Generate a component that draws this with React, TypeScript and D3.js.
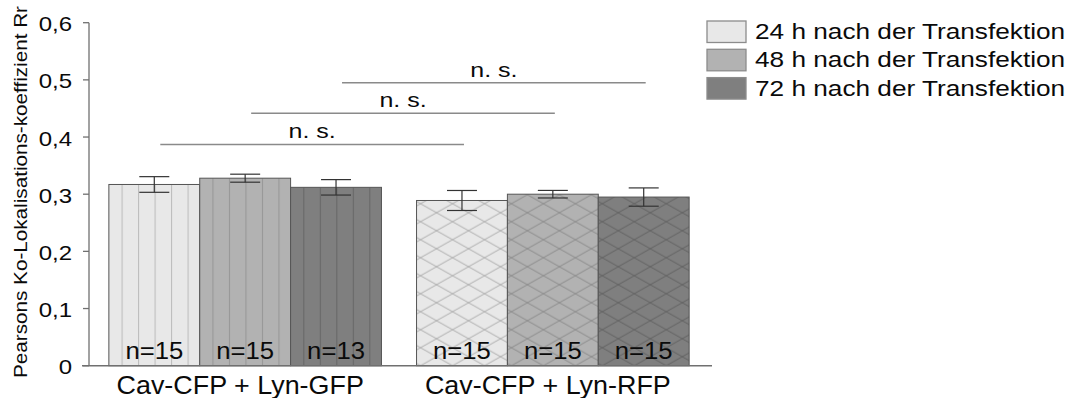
import React from "react";
import * as d3 from "d3";

const categories = ["Cav-CFP + Lyn-GFP", "Cav-CFP + Lyn-RFP"];
const seriesNames = [
  "24 h nach der Transfektion",
  "48 h nach der Transfektion",
  "72 h nach der Transfektion",
];
const values24 = [0.317, 0.289];
const values48 = [0.328, 0.3];
const values72 = [0.312, 0.295];
const errors24 = [0.0137, 0.0175];
const errors48 = [0.007, 0.0066];
const errors72 = [0.0135, 0.016];
const counts24 = [15, 15];
const counts48 = [15, 15];
const counts72 = [13, 15];
const yTicks = [0, 0.1, 0.2, 0.3, 0.4, 0.5, 0.6];
const sigSeries = [0, 1, 2];
const sigLevels = [0.387, 0.4415, 0.495];
const sigLabel = "n. s.";
const yTitle = "Pearsons Ko-Lokalisations-koeffizient Rr";

const fills = ["#e8e8e8", "#b2b2b2", "#7f7f7f"];
const stripeColors = ["#bcbcbc", "#979797", "#676767"];
const hatchColors = ["#acacac", "#8a8a8a", "#616161"];

const W = 1077;
const H = 398;
const FONT = "'Liberation Sans', Arial, Helvetica, sans-serif";

export default function App() {
  const values = [values24, values48, values72];
  const errors = [errors24, errors48, errors72];
  const counts = [counts24, counts48, counts72];

  const y = d3.scaleLinear().domain([0, 0.6]).range([365.7, 22.7]);
  const x0 = d3
    .scaleBand<string>()
    .domain(categories)
    .range([86, 712])
    .paddingInner(0.114)
    .paddingOuter(0.0743);
  const x1 = d3
    .scaleBand<number>()
    .domain([0, 1, 2])
    .range([0, x0.bandwidth()]);

  const bars: any[] = [];
  categories.forEach((c, gi) => {
    [0, 1, 2].forEach((si) => {
      const bx = (x0(c) as number) + (x1(si) as number);
      bars.push({
        gi,
        si,
        x: bx,
        w: x1.bandwidth(),
        v: values[si][gi],
        e: errors[si][gi],
        n: counts[si][gi],
        cx: bx + x1.bandwidth() / 2,
      });
    });
  });

  const axisColor = "#707070";
  const textColor = "#0a0a0a";
  const y0 = y(0);

  return (
    <svg
      width={W}
      height={H}
      style={{ position: "absolute", left: 0, top: 0, background: "#fff" }}
      fontFamily={FONT}
    >
      <defs>
        {bars.map((b, i) =>
          b.gi === 0 ? (
            <pattern
              key={i}
              id={`pat-${i}`}
              patternUnits="userSpaceOnUse"
              x={b.x + 12.7}
              y={0}
              width={16.5}
              height={10}
            >
              <rect width={16.5} height={10} fill={fills[b.si]} />
              <line x1={0.5} y1={0} x2={0.5} y2={10} stroke={stripeColors[b.si]} strokeWidth={1.1} />
            </pattern>
          ) : (
            <pattern
              key={i}
              id={`pat-${i}`}
              patternUnits="userSpaceOnUse"
              x={b.x + 4}
              y={y0}
              width={32}
              height={18}
            >
              <rect width={32} height={18} fill={fills[b.si]} />
              <path d="M0,0 L32,18 M0,18 L32,0" stroke={hatchColors[b.si]} strokeWidth={1} fill="none" />
            </pattern>
          )
        )}
      </defs>

      {/* y axis title */}
      <text
        transform={`translate(27,192) rotate(-90) scale(1.15,1)`}
        textAnchor="middle"
        fontSize={18}
        fill={textColor}
      >
        {yTitle}
      </text>

      {/* y axis */}
      <line x1={89} y1={y(0.6)} x2={89} y2={y0} stroke={axisColor} strokeWidth={1.3} />
      {yTicks.map((t) => (
        <g key={t}>
          <line x1={83} x2={89} y1={y(t)} y2={y(t)} stroke={axisColor} strokeWidth={1.3} />
          <text
            transform={`translate(72,${y(t) + 8.5}) scale(1.2,1)`}
            textAnchor="end"
            fontSize={20}
            fill={textColor}
          >
            {t === 0 ? "0" : d3.format(".1f")(t).replace(".", ",")}
          </text>
        </g>
      ))}

      {/* bars */}
      {bars.map((b, i) => (
        <rect
          key={i}
          x={b.x}
          y={y(b.v)}
          width={b.w}
          height={y0 - y(b.v)}
          fill={`url(#pat-${i})`}
          stroke="#555"
          strokeWidth={1}
        />
      ))}

      {/* x axis baseline */}
      <line x1={82} x2={712} y1={y0} y2={y0} stroke={axisColor} strokeWidth={1.5} />

      {/* error bars */}
      {bars.map((b, i) => (
        <g key={i} stroke="#333" strokeWidth={1.2}>
          <line x1={b.cx} x2={b.cx} y1={y(b.v + b.e)} y2={y(b.v - b.e)} />
          <line x1={b.cx - 15} x2={b.cx + 15} y1={y(b.v + b.e)} y2={y(b.v + b.e)} />
          <line x1={b.cx - 15} x2={b.cx + 15} y1={y(b.v - b.e)} y2={y(b.v - b.e)} />
        </g>
      ))}

      {/* n labels */}
      {bars.map((b, i) => (
        <text
          key={i}
          transform={`translate(${b.cx},${y0 - 6.5}) scale(1.07,1)`}
          textAnchor="middle"
          fontSize={24}
          fill={textColor}
        >
          {`n=${b.n}`}
        </text>
      ))}

      {/* category labels */}
      {categories.map((c) => (
        <text
          key={c}
          transform={`translate(${(x0(c) as number) + x0.bandwidth() / 2 - 5},393.5) scale(1.055,1)`}
          textAnchor="middle"
          fontSize={25.5}
          fill={textColor}
        >
          {c}
        </text>
      ))}

      {/* significance lines */}
      {sigSeries.map((si, k) => {
        const a = bars.find((b) => b.gi === 0 && b.si === si);
        const z = bars.find((b) => b.gi === 1 && b.si === si);
        const ly = y(sigLevels[k]);
        const xa = a.cx + 6;
        const xz = z.cx + 2;
        return (
          <g key={si}>
            <line x1={xa} x2={xz} y1={ly} y2={ly} stroke="#8a8a8a" strokeWidth={1.5} />
            <text
              transform={`translate(${(xa + xz) / 2},${ly - 6}) scale(1.19,1)`}
              textAnchor="middle"
              fontSize={21}
              fill={textColor}
            >
              {sigLabel}
            </text>
          </g>
        );
      })}

      {/* legend */}
      {seriesNames.map((s, i) => (
        <g key={s}>
          <rect
            x={707}
            y={21 + i * 28.3}
            width={39}
            height={21.5}
            fill={fills[i]}
            stroke="#8c8c8c"
            strokeWidth={1.3}
          />
          <text
            transform={`translate(755,${39 + i * 28.3}) scale(1.165,1)`}
            fontSize={22.5}
            fill={textColor}
          >
            {s}
          </text>
        </g>
      ))}
    </svg>
  );
}
